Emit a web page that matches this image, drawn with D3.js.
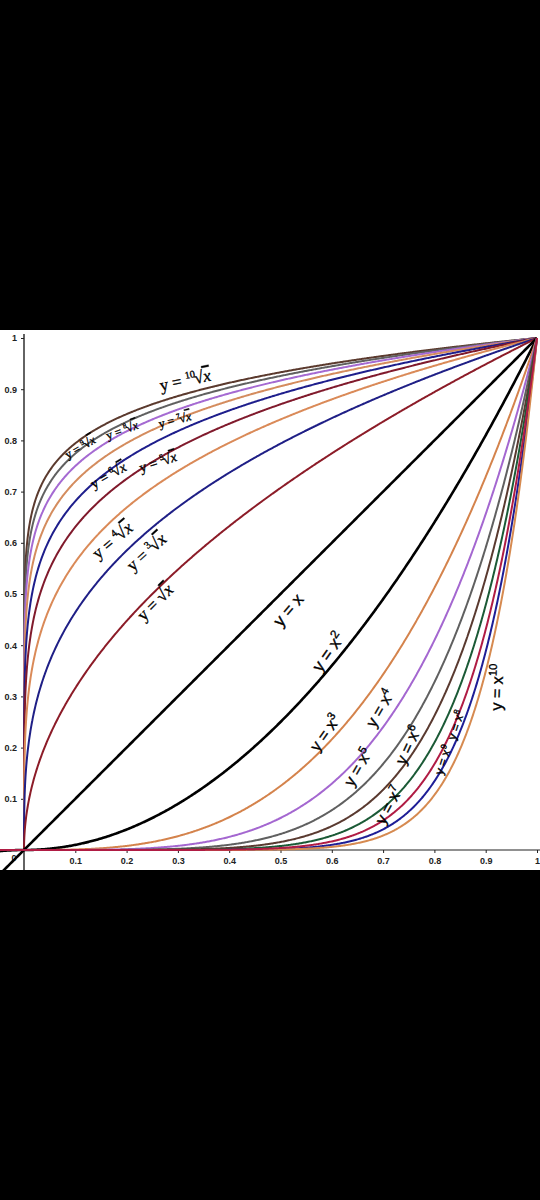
<!DOCTYPE html>
<html>
<head>
<meta charset="utf-8">
<script src="https://cdn.jsdelivr.net/npm/d3@7"></script>
<style>
  html, body { margin: 0; padding: 0; background: #000; }
  svg { display: block; }
</style>
</head>
<body>
<script>
'use strict';

const W = 540, H = 1200;

// curves: y = x^(1/n) and y = x^n
const rootIndex = [10, 9, 8, 7, 6, 5, 4, 3, 2];
const rootColors = ["#5b3a2e", "#606060", "#a56ad2", "#d48c5e", "#1e1e8c", "#801a2c", "#da8a58", "#1f1f86", "#8c1c28"];
const powerIndex = [1, 2, 3, 4, 5, 6, 7, 9, 10, 8];
const powerColors = ["#000000", "#000000", "#d4834c", "#a467d0", "#606060", "#5a3a30", "#1b5a36", "#1e1e96", "#d68a50", "#b01c44"];

// tick labels
const xTicks = [0.1, 0.2, 0.3, 0.4, 0.5, 0.6, 0.7, 0.8, 0.9, 1];
const yTicks = [0.1, 0.2, 0.3, 0.4, 0.5, 0.6, 0.7, 0.8, 0.9, 1];

// labels: kind, n, anchor x, anchor y (data units), angle, font size
const labelKind = ["root", "root", "root", "root", "root", "root", "root", "root", "root",
                   "pow", "pow", "pow", "pow", "pow", "pow", "pow", "pow", "pow", "pow"];
const labelN = [10, 9, 8, 7, 6, 5, 4, 3, 2, 1, 2, 3, 4, 5, 6, 7, 8, 9, 10];
const labelX = [0.314, 0.109, 0.191, 0.294, 0.164, 0.261, 0.172, 0.238, 0.255,
                0.515, 0.593, 0.587, 0.694, 0.651, 0.749, 0.711, 0.842, 0.817, 0.922];
const labelY = [0.918, 0.787, 0.820, 0.840, 0.732, 0.758, 0.605, 0.582, 0.484,
                0.469, 0.387, 0.229, 0.277, 0.162, 0.205, 0.088, 0.244, 0.176, 0.318];
const labelAngle = [-12, -30, -20, -14, -30, -18, -40, -42, -45,
                    -50, -55, -55, -60, -60, -65, -62, -72, -72, -88];
const labelSize = [17, 12, 12, 12, 14, 14, 17, 17, 17,
                   17, 17, 16, 16, 16, 16, 16, 12, 12, 16];

const svg = d3.select("body").append("svg")
  .attr("width", W).attr("height", H)
  .attr("viewBox", `0 0 ${W} ${H}`);

svg.append("rect").attr("width", W).attr("height", H).attr("fill", "#000");

const plotTop = 330, plotBottom = 870;
svg.append("rect")
  .attr("x", 0).attr("y", plotTop).attr("width", W).attr("height", plotBottom - plotTop)
  .attr("fill", "#fff");

svg.append("clipPath").attr("id", "plot")
  .append("rect").attr("x", 0).attr("y", plotTop).attr("width", W).attr("height", plotBottom - plotTop);

const x = d3.scaleLinear().domain([0, 1]).range([24, 537]);
const y = d3.scaleLinear().domain([0, 1]).range([850, 338]);

// axes
const xAxis = svg.append("g")
  .attr("transform", `translate(0,${y(0)})`)
  .call(d3.axisBottom(x).tickValues(xTicks).tickSize(3).tickFormat(d3.format("")));
xAxis.select(".domain").remove();
xAxis.append("line").attr("x1", 0).attr("x2", W).attr("stroke", "#222").attr("stroke-width", 1.2);

const yAxis = svg.append("g")
  .attr("transform", `translate(${x(0)},0)`)
  .call(d3.axisLeft(y).tickValues(yTicks).tickSize(3).tickFormat(d3.format("")));
yAxis.select(".domain").remove();
yAxis.append("line").attr("y1", 334).attr("y2", plotBottom).attr("stroke", "#222").attr("stroke-width", 1.4);

svg.selectAll(".tick text")
  .attr("font-family", "Liberation Sans, Arial, sans-serif")
  .attr("font-size", 9)
  .attr("font-weight", "bold")
  .attr("fill", "#222");
svg.selectAll(".tick line").attr("stroke", "#222");
xAxis.selectAll(".tick text").attr("dy", "0.9em");
yAxis.selectAll(".tick text").attr("dx", "-0.1em");

svg.append("text")
  .attr("x", x(0) - 10).attr("y", y(0) + 11)
  .attr("font-family", "Liberation Sans, Arial, sans-serif")
  .attr("font-size", 9).attr("font-weight", "bold").attr("fill", "#222")
  .attr("text-anchor", "middle")
  .text("0");

// curve sampling
function samples(p, xmin) {
  const pts = [];
  const steps = 500;
  for (let i = 0; i <= steps; i++) {
    const t = i / steps;
    pts.push([t, Math.pow(t, p)]);
    pts.push([Math.pow(t, 1 / p), t]);
  }
  if (xmin < 0) {
    for (let i = 0; i < 20; i++) {
      const t = xmin + (-xmin) * i / 20;
      pts.push([t, Math.sign(t) * Math.pow(Math.abs(t), p)]);
    }
  }
  pts.sort((a, b) => a[0] - b[0]);
  return pts;
}

const line = d3.line().x(d => x(d[0])).y(d => y(d[1]));
const curves = svg.append("g").attr("clip-path", "url(#plot)").attr("fill", "none");

rootIndex.forEach((n, i) => {
  curves.append("path")
    .attr("d", line(samples(1 / n, 0)))
    .attr("stroke", rootColors[i])
    .attr("stroke-width", 2);
});

powerIndex.forEach((n, i) => {
  curves.append("path")
    .attr("d", line(samples(n, x.invert(0))))
    .attr("stroke", powerColors[i])
    .attr("stroke-width", n <= 2 ? 2.6 : 2);
});

// labels
const labels = svg.append("g")
  .attr("fill", "#000")
  .attr("stroke", "#000")
  .attr("stroke-width", 0.35);
labelKind.forEach((kind, i) => {
  const fs = labelSize[i];
  const t = labels.append("text")
    .attr("transform", `translate(${x(labelX[i])},${y(labelY[i])}) rotate(${labelAngle[i]})`)
    .attr("text-anchor", "middle")
    .attr("dy", "0.35em")
    .attr("font-size", fs)
    .attr("font-family", kind === "root" ? "Liberation Serif, Times New Roman, serif" : "Liberation Sans, Arial, sans-serif");
  t.append("tspan").text("y = ");
  const n = labelN[i];
  if (kind === "root") {
    if (n > 2) {
      t.append("tspan").attr("font-size", fs * 0.6).attr("dy", -fs * 0.4).text(n);
      t.append("tspan").attr("dy", fs * 0.4).attr("dx", -fs * 0.1).text("√");
    } else {
      t.append("tspan").text("√");
    }
    t.append("tspan").attr("font-style", "italic").style("text-decoration", "overline").text("x");
  } else {
    t.append("tspan").text("x");
    if (n > 1) {
      t.append("tspan").attr("font-size", fs * 0.7).attr("dy", -fs * 0.4).text(n);
    }
  }
});
</script>
</body>
</html>
